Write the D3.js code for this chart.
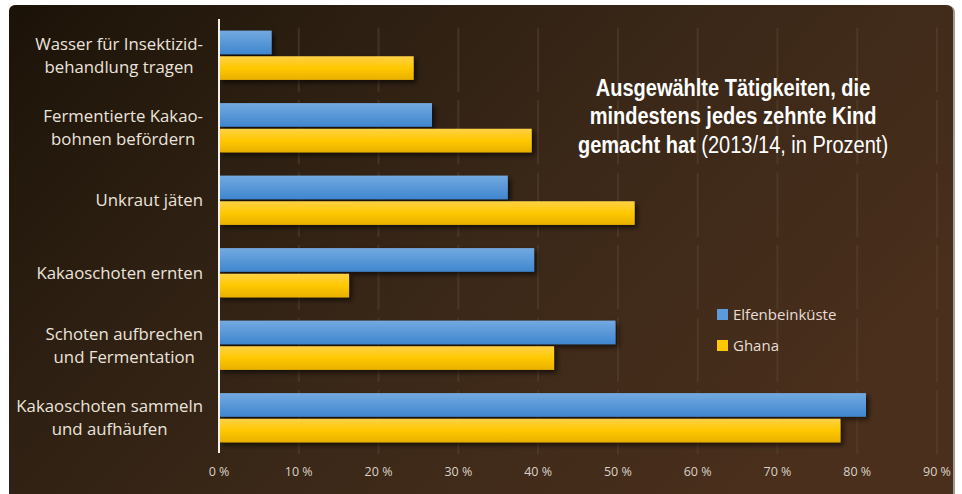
<!DOCTYPE html>
<html>
<head>
<meta charset="utf-8">
<script src="https://cdn.jsdelivr.net/npm/d3@7"></script>
<style>
  body { margin: 0; background: #fff; }
  svg { display: block; }
</style>
</head>
<body>
<div id="chart"></div>
<script>
const categories = [
  ["Wasser für Insektizid-", "behandlung tragen"],
  ["Fermentierte Kakao-", "bohnen befördern"],
  ["Unkraut jäten"],
  ["Kakaoschoten ernten"],
  ["Schoten aufbrechen", "und Fermentation"],
  ["Kakaoschoten sammeln", "und aufhäufen"]
]
const seriesNames = ["Elfenbeinküste", "Ghana"]
const ivoryCoast = [6.6, 26.7, 36.2, 39.5, 49.7, 81.1]
const ghana = [24.4, 39.2, 52.1, 16.3, 42.0, 77.9]
const tickValues = [0, 10, 20, 30, 40, 50, 60, 70, 80, 90]
const tickLabels = ["0 %", "10 %", "20 %", "30 %", "40 %", "50 %", "60 %", "70 %", "80 %", "90 %"]

const width = 962, height = 494

const svg = d3.select("#chart").append("svg")
  .attr("width", width)
  .attr("height", height)

const defs = svg.append("defs")

const bg = defs.append("linearGradient").attr("id", "bg")
  .attr("gradientUnits", "userSpaceOnUse")
  .attr("x1", 0).attr("y1", 0).attr("x2", 650).attr("y2", 620)
bg.append("stop").attr("offset", "0%").attr("stop-color", "#1b1207")
bg.append("stop").attr("offset", "28%").attr("stop-color", "#2b1e11")
bg.append("stop").attr("offset", "60%").attr("stop-color", "#3b2818")
bg.append("stop").attr("offset", "100%").attr("stop-color", "#4a2f1c")

const gBlue = defs.append("linearGradient").attr("id", "gBlue")
  .attr("x1", 0).attr("y1", 0).attr("x2", 0).attr("y2", 1)
gBlue.append("stop").attr("offset", "0%").attr("stop-color", "#73aae0")
gBlue.append("stop").attr("offset", "100%").attr("stop-color", "#3f86cf")

const gYellow = defs.append("linearGradient").attr("id", "gYellow")
  .attr("x1", 0).attr("y1", 0).attr("x2", 0).attr("y2", 1)
gYellow.append("stop").attr("offset", "0%").attr("stop-color", "#ffd146")
gYellow.append("stop").attr("offset", "50%").attr("stop-color", "#ffc800")
gYellow.append("stop").attr("offset", "100%").attr("stop-color", "#e8b000")

defs.append("filter").attr("id", "shadow")
  .attr("x", "-5%").attr("y", "-20%").attr("width", "115%").attr("height", "160%")
  .append("feDropShadow")
  .attr("dx", 3).attr("dy", 3).attr("stdDeviation", 2.5)
  .attr("flood-color", "#000").attr("flood-opacity", 0.6)

// panel
svg.append("rect")
  .attr("x", 11).attr("y", 6).attr("width", 944).attr("height", 500)
  .attr("rx", 6).attr("fill", "#a39a92")
svg.append("rect")
  .attr("x", 9).attr("y", 5).attr("width", 944).attr("height", 500)
  .attr("rx", 6).attr("fill", "url(#bg)")

const x = d3.scaleLinear()
  .domain([0, 90])
  .range([219, 937])

const y = d3.scaleBand()
  .domain(d3.range(categories.length))
  .range([19, 454])
  .paddingInner(0.32)
  .paddingOuter(0.16)

const ySub = d3.scaleBand()
  .domain([0, 1])
  .range([0, y.bandwidth()])

// gridlines, drawn per group
const grid = svg.append("g")
categories.forEach((c, i) => {
  grid.selectAll(null)
    .data(tickValues.slice(1))
    .join("line")
    .attr("x1", d => x(d)).attr("x2", d => x(d))
    .attr("y1", y(i) - 3)
    .attr("y2", y(i) + y.bandwidth() + 12)
    .attr("stroke", "#5a4533")
    .attr("stroke-opacity", 0.5)
    .attr("stroke-width", 2)
})

const data = categories.map((c, i) => ({ i, values: [ivoryCoast[i], ghana[i]] }))
const fills = ["url(#gBlue)", "url(#gYellow)"]

svg.append("g")
  .selectAll("g")
  .data(data)
  .join("g")
  .attr("transform", d => `translate(0,${y(d.i)})`)
  .selectAll("rect")
  .data(d => d.values.map((v, k) => ({ v, k })))
  .join("rect")
  .attr("x", x(0))
  .attr("y", d => ySub(d.k) + (d.k === 0 ? 0 : 1))
  .attr("width", d => x(d.v) - x(0))
  .attr("height", ySub.bandwidth() - 1)
  .attr("fill", d => fills[d.k])
  .attr("filter", "url(#shadow)")

// axis line
svg.append("line")
  .attr("x1", x(0)).attr("x2", x(0))
  .attr("y1", 19).attr("y2", 453)
  .attr("stroke", "#f4f0ec").attr("stroke-width", 2)

// x tick labels
svg.append("g")
  .selectAll("text")
  .data(tickValues)
  .join("text")
  .attr("x", d => x(d))
  .attr("y", 476)
  .attr("text-anchor", "middle")
  .attr("fill", "#d9d1c9")
  .style("font", "12.5px 'Open Sans', sans-serif")
  .text((d, i) => tickLabels[i])

// category labels: block right aligned, lines centred in the block
const labels = svg.append("g")
categories.forEach((lines, i) => {
  const g = labels.append("g")
  const cy = y(i) + y.bandwidth() / 2
  const lh = 23
  const texts = g.selectAll("text")
    .data(lines)
    .join("text")
    .attr("y", (d, j) => cy + (j - (lines.length - 1) / 2) * lh)
    .attr("dy", "0.35em")
    .attr("text-anchor", "middle")
    .attr("fill", "#ebe4dc")
    .style("font", "16.8px 'Open Sans', sans-serif")
    .text(d => d)
  let maxW = 0
  texts.each(function () { maxW = Math.max(maxW, this.getComputedTextLength()) })
  texts.attr("x", 203 - maxW / 2)
})

// title, bold face squeezed horizontally to look condensed
const title = svg.append("g")
  .attr("transform", "translate(733,0) scale(0.87,1)")
  .attr("text-anchor", "middle")
  .attr("fill", "#ffffff")
  .style("font-family", "'Liberation Sans', Arial, sans-serif")
  .style("font-size", "23px")
title.append("text").attr("x", 0).attr("y", 96)
  .style("font-weight", "bold").text("Ausgewählte Tätigkeiten, die")
title.append("text").attr("x", 0).attr("y", 124)
  .style("font-weight", "bold").text("mindestens jedes zehnte Kind")
const t3 = title.append("text").attr("x", 0).attr("y", 153)
t3.append("tspan").style("font-weight", "bold").text("gemacht hat")
t3.append("tspan").text(" (2013/14, in Prozent)")

// legend
const legend = svg.append("g")
  .selectAll("g")
  .data(seriesNames)
  .join("g")
  .attr("transform", (d, i) => `translate(717,${309 + i * 31})`)
legend.append("rect")
  .attr("width", 11).attr("height", 11)
  .attr("fill", (d, i) => i === 0 ? "#5b9bdc" : "#ffc800")
legend.append("text")
  .attr("x", 16).attr("y", 6)
  .attr("dy", "0.35em")
  .attr("fill", "#e6ded6")
  .style("font", "15px 'Open Sans', sans-serif")
  .text(d => d)
</script>
</body>
</html>
